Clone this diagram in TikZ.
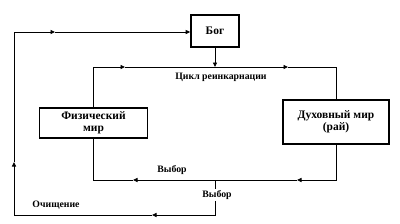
\documentclass[tikz,border=0pt]{standalone}
\usepackage{fontspec}
\setmainfont{Liberation Serif}
\usetikzlibrary{positioning, arrows.meta}

\begin{document}
\begin{tikzpicture}[x=1pt, y=-1pt,
    blok/.style={draw, line width=1.6pt, align=center, inner sep=0pt, font=\bfseries\fontsize{11.5}{12}\selectfont},
    linia/.style={line width=0.9pt},
    strelka/.style={linia, -{Triangle[length=4.5pt, width=4pt]}},
    podp/.style={font=\bfseries\fontsize{9.8}{10}\selectfont, inner sep=1pt}
]
\useasboundingbox (0,0) rectangle (400,223);
\node[blok, minimum width=48pt, minimum height=32pt] (bog) at (215,31) {Бог};
\node[blok, minimum width=108pt, minimum height=30pt] (fiz) at (93.5,123) {Физический\\мир};
\node[blok, minimum width=106pt, minimum height=44pt] (duh) at (336,122) {Духовный мир\\(рай)};
% tochki dlja strelok
\coordinate (cA) at (125,67);
\coordinate (cB) at (288,67);
\coordinate (cC) at (297,180);
\coordinate (cD) at (133,180);
\coordinate (cE) at (152,215);
\coordinate (cF) at (14,162);
\coordinate (cG) at (55,32);
\coordinate (niz) at (215,180);
% cikl
\draw[strelka] (fiz.north) |- (cA);
\draw[strelka] (cA) -- (cB);
\draw[linia] (cB) -| (duh.north);
\draw[strelka] (duh.south) |- (cC);
\draw[strelka] (cC) -- (cD);
\draw[linia] (cD) -| (fiz.south);
\draw[strelka] (bog.south) -- (bog.south |- cA);
\node[podp] (cikl) at (221,77) {Цикл реинкарнации};
\node[podp] (vybor1) at (172,170) {Выбор};
% vnesnij put
\node[podp] (vybor2) at (217,195) {Выбор};
\node[podp] (ochist) at (56,205) {Очищение};
\draw[linia] (niz) -- (vybor2.north -| niz);
\draw[strelka] (vybor2.south -| niz) |- (cE);
\draw[strelka] (cE) -| (cF);
\draw[strelka] (cF) |- (cG);
\draw[strelka] (cG) -- (cG -| bog.west);
\end{tikzpicture}
\end{document}
